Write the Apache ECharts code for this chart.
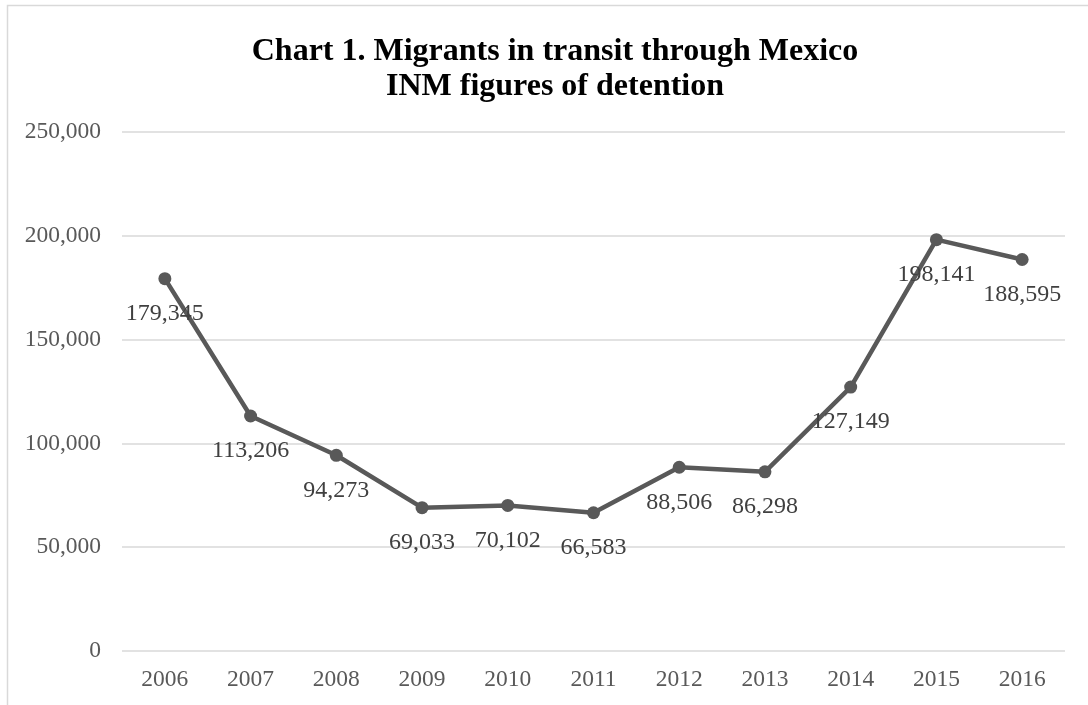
<!DOCTYPE html>
<html>
<head>
<meta charset="utf-8">
<script src="https://cdn.jsdelivr.net/npm/echarts@6/dist/echarts.min.js"></script>
<style>
html,body{margin:0;padding:0;background:#fff;}
#main{width:1088px;height:705px;}
</style>
</head>
<body>
<div id="main"></div>
<script>
var titleText = 'Chart 1. Migrants in transit through Mexico\nINM figures of detention';
var years = ['2006','2007','2008','2009','2010','2011','2012','2013','2014','2015','2016'];
var detentions = [179345, 113206, 94273, 69033, 70102, 66583, 88506, 86298, 127149, 198141, 188595];
var yTicks = [0, 50000, 100000, 150000, 200000, 250000];

var serif = '"Liberation Serif", "Times New Roman", serif';
function fmt(v){ return v.toString().replace(/\B(?=(\d{3})+(?!\d))/g, ','); }

var chart = echarts.init(document.getElementById('main'), null, {renderer:'canvas'});
chart.setOption({
  backgroundColor: '#ffffff',
  animation: false,
  graphic: [{
    type: 'rect',
    shape: {x: 7.5, y: 5.5, width: 2000, height: 2000},
    style: {fill: 'none', stroke: '#d9d9d9', lineWidth: 1.5},
    silent: true
  }],
  title: {
    text: titleText,
    left: 550,
    top: 29,
    textAlign: 'center',
    textStyle: {
      fontFamily: serif, fontSize: 32, fontWeight: 'bold', color: '#000000', lineHeight: 35
    }
  },
  grid: {left: 122, right: 23, top: 132, bottom: 54, containLabel: false},
  xAxis: {
    type: 'category',
    data: years,
    boundaryGap: true,
    axisLine: {show: false},
    axisTick: {show: false},
    axisLabel: {fontFamily: serif, fontSize: 23.5, color: '#595959', margin: 17}
  },
  yAxis: {
    type: 'value',
    min: yTicks[0],
    max: yTicks[yTicks.length-1],
    interval: yTicks[1] - yTicks[0],
    axisLine: {show: false},
    axisTick: {show: false},
    splitLine: {lineStyle: {color: '#d9d9d9', width: 1.5}},
    axisLabel: {fontFamily: serif, fontSize: 23.5, color: '#595959', margin: 21, formatter: function(v){ return fmt(v); }}
  },
  series: [{
    type: 'line',
    data: detentions,
    symbol: 'circle',
    symbolSize: 13,
    lineStyle: {color: '#595959', width: 4.5},
    itemStyle: {color: '#595959'},
    label: {
      show: true,
      position: 'inside',
      offset: [0, 35],
      fontFamily: serif, fontSize: 24, color: '#404040',
      formatter: function(p){ return fmt(p.value); }
    }
  }]
});
</script>
</body>
</html>
